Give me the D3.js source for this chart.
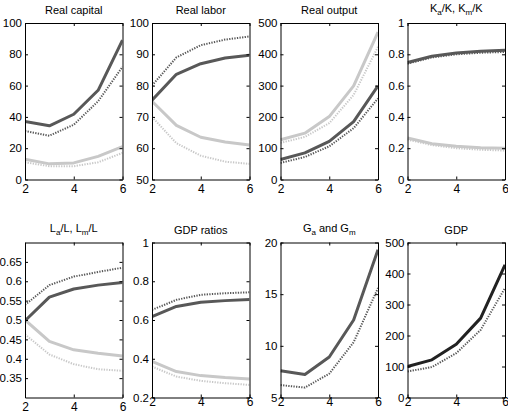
<!DOCTYPE html>
<html><head><meta charset="utf-8">
<script src="https://cdn.jsdelivr.net/npm/d3@7"></script>
<style>body{margin:0;background:#fff}svg{display:block}text{font-family:"Liberation Sans",Arial,sans-serif;fill:#000}</style>
</head><body><svg id="c" width="508" height="414"></svg>
<script>
const xs = [2,3,4,5,6];
const xTicks = [2,4,6];

const capDark = [37,34.3,41.7,57,89];
const capDarkDot = [31,28,35,50,72];
const capLight = [13,10,10.6,14.8,21];
const capLightDot = [11,8.5,8.5,11,17];

const labDark = [75.3,83.6,87,88.8,89.7];
const labDarkDot = [80,89,92.9,94.7,95.7];
const labLight = [75,67.3,63.5,62,61];
const labLightDot = [70,61.6,57.6,55.7,55];

const outLight = [127,148,201,299,471];
const outLightDot = [117,136,180,270,424];
const outDark = [64,85,122,185,299];
const outDarkDot = [53,72,106,164,259];

const kDark = [0.748,0.788,0.809,0.82,0.826];
const kDarkDot = [0.74,0.78,0.80,0.81,0.815];
const kLight = [0.265,0.229,0.212,0.203,0.2];
const kLightDot = [0.255,0.22,0.2,0.19,0.185];

const lDark = [0.498,0.559,0.58,0.59,0.597];
const lDarkDot = [0.539,0.59,0.612,0.624,0.635];
const lLight = [0.5,0.445,0.423,0.414,0.407];
const lLightDot = [0.463,0.411,0.386,0.373,0.369];

const gdpRDark = [0.618,0.67,0.692,0.70,0.706];
const gdpRDarkDot = [0.652,0.704,0.73,0.738,0.743];
const gdpRLight = [0.386,0.334,0.313,0.303,0.296];
const gdpRLightDot = [0.36,0.308,0.286,0.274,0.265];

const gSolid = [7.58,7.23,8.92,12.5,19.3];
const gDot = [6.2,5.96,7.3,10.35,15.6];

const gdpSolid = [100,121.5,172,256,428];
const gdpDot = [84,98,143,218,353];

const DARK = "#585858", LIGHT = "#c8c8c8", BLACK = "#222";

const panels = [
  {title:[["Real capital"]], dom:[0,100], ticks:[0,20,40,60,80,100],
   series:[[capLight,LIGHT,0],[capLightDot,LIGHT,1],[capDark,DARK,0],[capDarkDot,DARK,1]]},
  {title:[["Real labor"]], dom:[50,100], ticks:[50,60,70,80,90,100],
   series:[[labLight,LIGHT,0],[labLightDot,LIGHT,1],[labDark,DARK,0],[labDarkDot,DARK,1]]},
  {title:[["Real output"]], dom:[0,500], ticks:[0,100,200,300,400,500],
   series:[[outLight,LIGHT,0],[outLightDot,LIGHT,1],[outDark,DARK,0],[outDarkDot,DARK,1]]},
  {title:[["K"],["a","sub"],["/K, K"],["m","sub"],["/K"]], dom:[0,1], ticks:[0,0.2,0.4,0.6,0.8,1],
   series:[[kLight,LIGHT,0],[kLightDot,LIGHT,1],[kDarkDot,DARK,1],[kDark,DARK,0]]},
  {title:[["L"],["a","sub"],["/L, L"],["m","sub"],["/L"]], dom:[0.3,0.7], ticks:[0.35,0.4,0.45,0.5,0.55,0.6,0.65], xlab:9,
   series:[[lLight,LIGHT,0],[lLightDot,LIGHT,1],[lDark,DARK,0],[lDarkDot,DARK,1]]},
  {title:[["GDP ratios"]], dom:[0.2,1], ticks:[0.2,0.4,0.6,0.8,1], xlab:4,
   series:[[gdpRLight,LIGHT,0],[gdpRLightDot,LIGHT,1],[gdpRDark,DARK,0],[gdpRDarkDot,DARK,1]]},
  {title:[["G"],["a","sub"],[" and G"],["m","sub"]], dom:[5,20], ticks:[5,10,15,20], xlab:4,
   series:[[gSolid,DARK,0],[gDot,DARK,1]]},
  {title:[["GDP"]], dom:[0,500], ticks:[0,100,200,300,400,500], xlab:4,
   series:[[gdpSolid,BLACK,0],[gdpDot,DARK,1]]}
];

const lefts = [25,152,280.5,407.5], W = 97.5;
const rows = [[23,179.5],[242.5,397.5]];
const svg = d3.select("#c");

panels.forEach((p,i)=>{
  const col = i%4, row = Math.floor(i/4);
  const x0 = lefts[col], x1 = x0+W, y0 = rows[row][0], y1 = rows[row][1];
  const x = d3.scaleLinear().domain([2,6]).range([x0,x1]);
  const y = d3.scaleLinear().domain(p.dom).range([y1,y0]);
  const g = svg.append("g");
  const cid = "clip"+i;
  g.append("clipPath").attr("id",cid).append("rect").attr("x",x0).attr("y",y0).attr("width",W).attr("height",y1-y0);
  const lg = g.append("g").attr("clip-path",`url(#${cid})`);
  const line = d3.line().x((d,j)=>x(xs[j])).y(d=>y(d));
  p.series.forEach(([vals,color,dotted])=>{
    lg.append("path").datum(vals).attr("d",line).attr("fill","none")
      .attr("stroke",color).attr("stroke-width",dotted?2:3)
      .attr("stroke-dasharray",dotted?"1.3,1.3":null)
      .attr("stroke-linejoin","round");
  });
  const ax = (gen,tr)=>g.append("g").attr("transform",tr).call(gen).call(s=>{
    s.select(".domain").attr("stroke","#000").attr("stroke-width",1);
    s.selectAll(".tick line").attr("stroke","#000");
  });
  const xb = ax(d3.axisBottom(x).tickValues(xTicks).tickSizeInner(-3).tickSizeOuter(0)
      .tickPadding(p.xlab!==undefined ? p.xlab-4 : 4.5).tickFormat(d3.format("d")), `translate(0,${y1})`);
  xb.selectAll("text").attr("font-size",12).attr("dy","0.71em");
  ax(d3.axisTop(x).tickValues(xTicks).tickSizeInner(-3).tickSizeOuter(0).tickFormat(""), `translate(0,${y0})`);
  const yl = ax(d3.axisLeft(y).tickValues(p.ticks).tickSizeInner(-3).tickSizeOuter(0).tickPadding(3).tickFormat(d=>String(d)), `translate(${x0},0)`);
  yl.selectAll("text").attr("font-size",11.5);
  ax(d3.axisRight(y).tickValues(p.ticks).tickSizeInner(-3).tickSizeOuter(0).tickFormat(""), `translate(${x1},0)`);
  const hasSub = p.title.length>1;
  const t = g.append("text").attr("x",(x0+x1)/2).attr("y",y0-9-(hasSub?2:0)).attr("text-anchor","middle").attr("font-size",11);
  p.title.forEach(([s,k],j)=>{
    const ts = t.append("tspan").text(s);
    if(k==="sub") ts.attr("font-size",8).attr("dy",3);
    else if(j>0) ts.attr("dy",-3);
  });
});
</script></body></html>
